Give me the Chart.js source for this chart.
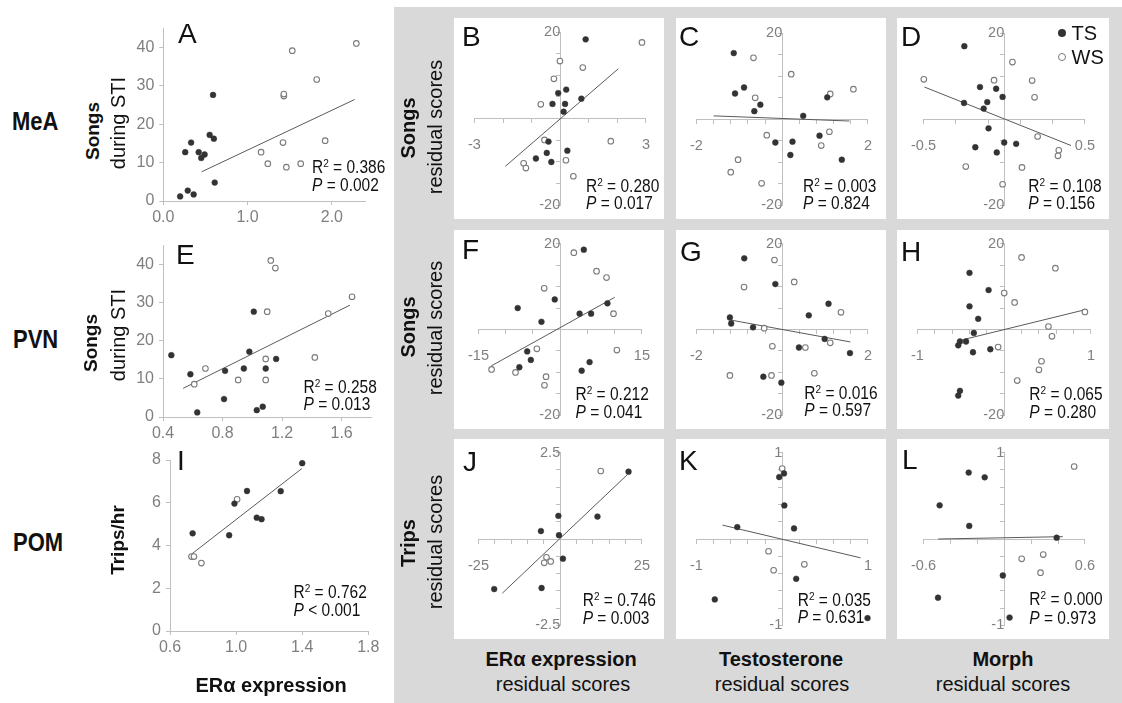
<!DOCTYPE html>
<html>
<head>
<meta charset="utf-8">
<script src="https://cdn.jsdelivr.net/npm/chart.js@4.4.1/dist/chart.umd.min.js"></script>
<style>
body { margin: 0; background: #fff; font-family: "Liberation Sans", Arial, Helvetica, sans-serif; }
#fig { position: relative; width: 1122px; height: 703px; overflow: hidden; }
.t { position: absolute; white-space: nowrap; line-height: 1; color: #111; }
.sup { font-size: 0.65em; position: relative; top: -0.45em; }
canvas { position: absolute; }
</style>
</head>
<body>
<div id="fig"></div>
<script>
// ---- data ----
// left column: raw values
const aTS = [[0.20,1.2],[0.26,12.7],[0.29,2.7],[0.33,15.2],[0.36,1.7],[0.42,12.7],[0.45,11.2],[0.49,12.1],[0.55,17.2],[0.59,27.6],[0.60,16.2],[0.61,4.8]];
const aWS = [[1.16,12.7],[1.24,9.7],[1.43,27.3],[1.43,27.8],[1.42,15.2],[1.46,8.8],[1.53,39.1],[1.63,9.7],[1.82,31.6],[1.92,15.7],[2.29,41.0]];
const aFit = [[0.455,7.6],[2.27,26.4]];
const aStats = ['0.386', '= 0.002'];
const aXTicks = [0, 1, 2];
const aYTicks = [0, 10, 20, 30, 40];

const eTS = [[0.456,16.2],[0.584,11.2],[0.63,1.2],[0.817,12.1],[0.81,4.7],[0.943,12.7],[0.98,17.1],[1.01,27.6],[1.03,1.8],[1.07,2.7],[1.09,12.7],[1.16,15.2]];
const eWS = [[0.61,8.6],[0.685,12.7],[0.905,9.7],[1.09,9.7],[1.09,15.2],[1.10,27.6],[1.124,41.0],[1.155,39.0],[1.42,15.6],[1.51,27.1],[1.67,31.5]];
const eFit = [[0.535,7.5],[1.656,29.3]];
const eStats = ['0.258', '= 0.013'];
const eXTicks = [0.4, 0.8, 1.2, 1.6];
const eYTicks = [0, 10, 20, 30, 40];

const iTS = [[0.737,4.57],[0.958,4.48],[0.99,5.96],[1.066,6.55],[1.125,5.30],[1.154,5.23],[1.27,6.54],[1.40,7.85]];
const iWS = [[0.73,3.48],[0.745,3.48],[0.79,3.18],[1.006,6.16]];
const iFit = [[0.731,3.6],[1.398,7.6]];
const iStats = ['0.762', '< 0.001'];
const iXTicks = [0.6, 1.0, 1.4, 1.8];
const iYTicks = [0, 2, 4, 6, 8];

// right block: residual scores
const bTS = [[0.89,18.3],[-0.07,5.9],[0.21,6.7],[-0.27,3.4],[0.17,3.4],[0.74,4.6],[0.12,1.6],[-0.41,-5.3],[-0.47,-7.9],[0.25,-7.4],[-0.85,-9.2],[-0.31,-10.0]];
const bWS = [[2.86,17.6],[-0.01,13.3],[0.79,11.8],[-0.22,9.2],[-0.68,3.3],[-0.55,-4.9],[1.77,-5.2],[0.20,-9.6],[-1.28,-10.3],[-1.20,-11.4],[0.46,-13.3]];
const bFit = [[-1.92,-11.0],[2.03,11.5]];
const bStats = ['0.280', '= 0.017'];

const cTS = [[-1.13,15.4],[-0.89,7.4],[-1.10,6.0],[-0.65,1.9],[-0.51,3.4],[0.49,0.8],[1.05,5.1],[-0.16,-5.4],[0.24,-5.2],[0.87,-3.8],[0.19,-8.3],[1.39,-9.4]];
const cWS = [[-0.67,14.3],[-0.63,5.0],[0.21,10.5],[1.12,5.9],[1.66,7.0],[-0.36,-3.7],[1.10,-2.9],[0.91,-6.1],[-0.48,-14.9],[-1.03,-9.4],[-1.20,-12.3]];
const cFit = [[-1.6,0.8],[1.57,-0.4]];
const cStats = ['0.003', '= 0.824'];

const dTS = [[-0.247,17.0],[-0.15,7.5],[-0.05,7.1],[-0.01,5.2],[-0.249,3.8],[-0.105,4.0],[-0.127,2.5],[-0.097,-2.1],[-0.179,-6.5],[0.0,-5.4],[0.074,-5.7],[-0.046,-7.7]];
const dWS = [[-0.498,9.3],[-0.063,9.1],[0.051,13.3],[0.173,9.0],[0.188,5.1],[0.207,-4.0],[0.338,-7.2],[0.333,-8.5],[0.11,-11.2],[-0.238,-11.0],[-0.01,-15.1]];
const dFit = [[-0.494,7.5],[0.414,-6.1]];
const dStats = ['0.108', '= 0.156'];

const fTS = [[4.33,18.6],[-1.0,7.0],[-7.8,5.0],[-3.44,1.8],[3.56,3.7],[5.67,3.7],[8.67,6.1],[-6.06,-5.1],[-5.39,-7.1],[-7.5,-8.8],[5.39,-7.6],[3.94,-9.6]];
const fWS = [[2.5,17.9],[6.67,13.6],[8.5,12.1],[-2.94,9.6],[9.78,3.7],[-4.28,-4.5],[10.4,-4.8],[-12.6,-9.3],[-8.2,-10.0],[-2.6,-11.0],[-2.89,-13.0]];
const fFit = [[-12.67,-8.5],[10.0,7.5]];
const fStats = ['0.212', '= 0.041'];

const gTS = [[-0.885,16.6],[-0.16,10.6],[-1.22,2.8],[-1.19,1.4],[-0.68,0.5],[0.62,3.3],[1.08,6.0],[0.99,-2.2],[0.39,-4.2],[1.58,-5.5],[-0.44,-11.0],[-0.02,-12.4]];
const gWS = [[-0.18,16.2],[-0.89,9.9],[0.28,11.1],[1.37,4.0],[-0.42,0.3],[-0.23,-3.9],[0.54,-4.2],[1.12,-3.1],[-1.22,-10.7],[-0.25,-10.7],[0.75,-10.2]];
const gFit = [[-1.2,2.2],[1.59,-2.9]];
const gStats = ['0.016', '= 0.597'];

const hTS = [[-0.40,13.2],[-0.18,9.2],[-0.40,5.4],[-0.30,2.5],[-0.35,-0.8],[-0.44,-2.8],[-0.51,-2.8],[-0.53,-3.7],[-0.36,-5.3],[-0.16,-4.6],[-0.51,-14.3],[-0.53,-15.4]];
const hWS = [[0.20,16.8],[0.59,14.3],[0.0,8.5],[0.12,6.3],[0.93,4.1],[0.51,0.7],[0.55,-1.6],[-0.07,-4.1],[0.43,-7.4],[0.40,-9.4],[0.15,-11.9]];
const hFit = [[-0.48,-2.4],[0.93,4.6]];
const hStats = ['0.065', '= 0.280'];

const jTS = [[20.9,1.95],[11.4,0.65],[-0.56,0.67],[-5.9,0.23],[-0.37,0.11],[0.83,-0.57],[-5.7,-1.42],[-20.2,-1.45]];
const jWS = [[12.4,1.97],[-4.2,-0.53],[-4.9,-0.69],[-2.9,-0.65]];
const jFit = [[-17.7,-1.57],[20.6,1.87]];
const jStats = ['0.746', '= 0.003'];

const kTS = [[-0.524,0.138],[-0.035,0.718],[0.021,0.76],[0.025,0.389],[0.138,0.123],[0.163,-0.461],[-0.786,-0.70],[0.995,-0.916]];
const kWS = [[0.0,0.817],[-0.159,-0.142],[-0.1,-0.362],[0.258,-0.294]];
const kFit = [[-0.697,0.161],[0.913,-0.218]];
const kStats = ['0.035', '= 0.631'];

const lTS = [[-0.264,0.77],[-0.145,0.715],[-0.48,0.39],[-0.26,0.152],[0.39,0.015],[-0.01,-0.423],[-0.492,-0.68],[0.04,-0.91]];
const lWS = [[0.52,0.84],[0.13,-0.23],[0.29,-0.18],[0.27,-0.39]];
const lFit = [[-0.49,0.0],[0.435,0.027]];
const lStats = ['0.000', '= 0.973'];

// axis ranges [min, max, step]
const xRangeB = [-3, 3, 1],        yRangeB = [-20, 20, 5];
const xRangeC = [-2, 2, 0.4],      yRangeC = [-20, 20, 5];
const xRangeD = [-0.5, 0.5, 0.2],  yRangeD = [-20, 20, 5];
const xRangeF = [-15, 15, 5],      yRangeF = [-20, 20, 5];
const xRangeG = [-2, 2, 0.4],      yRangeG = [-20, 20, 5];
const xRangeH = [-1, 1, 0.2],      yRangeH = [-20, 20, 5];
const xRangeJ = [-25, 25, 5],      yRangeJ = [-2.5, 2.5, 0.5];
const xRangeK = [-1, 1, 0.2],      yRangeK = [-1, 1, 0.2];
const xRangeL = [-0.6, 0.6, 0.2],  yRangeL = [-1, 1, 0.2];

// ---- drawing ----
const FONT = '"Liberation Sans", Arial, Helvetica, sans-serif';
const AXIS = '#bfbfbf';
const TICK = '#7f7f7f';
const fig = document.getElementById('fig');

function rect(x, y, w, h, color) {
    var d = document.createElement('div');
    d.style.cssText = `position:absolute;left:${x}px;top:${y}px;width:${w}px;height:${h}px;background:${color}`;
    fig.appendChild(d);
}

// text placed by left (or centre/right) x and vertical centre
function txt(html, x, cy, size, o) {
    o = o || {};
    var d = document.createElement('div');
    d.className = 't';
    d.innerHTML = html;
    d.style.fontSize = size + 'px';
    d.style.left = x + 'px';
    d.style.top = (cy - size * 0.5) + 'px';
    if (o.bold) d.style.fontWeight = 'bold';
    var tf = '';
    if (o.align === 'center') tf += 'translateX(-50%) ';
    if (o.align === 'right') tf += 'translateX(-100%) ';
    if (o.stretch) tf += `scaleY(${o.stretch})`;
    d.style.transform = tf;
    fig.appendChild(d);
}

function vtxt(html, cx, cy, size, bold) {
    var d = document.createElement('div');
    d.className = 't';
    d.innerHTML = html;
    d.style.fontSize = size + 'px';
    d.style.left = cx + 'px';
    d.style.top = cy + 'px';
    d.style.transform = 'translate(-50%,-50%) rotate(-90deg)';
    if (bold) d.style.fontWeight = 'bold';
    fig.appendChild(d);
}

function stats(s, x, cyR, cyP) {
    txt(`R<span class="sup">2</span> = ${s[0]}`, x, cyR, 15.5, {stretch: 1.15});
    txt(`<i>P</i> ${s[1]}`, x, cyP, 15.5, {stretch: 1.15});
}

function pts(arr) { return arr.map(p => ({x: p[0], y: p[1]})); }

function datasets(ts, ws, fit) {
    return [
        {label: 'TS', data: pts(ts), pointRadius: 2.9, pointBackgroundColor: '#333', pointBorderColor: '#333', pointBorderWidth: 0.5, clip: false},
        {label: 'WS', data: pts(ws), pointRadius: 2.8, pointBackgroundColor: '#fff', pointBorderColor: '#7a7a7a', pointBorderWidth: 1.1, clip: false},
        {label: 'fit', data: pts(fit), showLine: true, pointRadius: 0, borderColor: '#5a5a5a', borderWidth: 1, fill: false, clip: false}
    ];
}

function makeCanvas(x, y, w, h) {
    var c = document.createElement('canvas');
    c.width = w; c.height = h;
    c.style.left = x + 'px'; c.style.top = y + 'px';
    c.style.width = w + 'px'; c.style.height = h + 'px';
    fig.appendChild(c);
    return c;
}

const baseOpts = {
    responsive: false, animation: false, devicePixelRatio: 1,
    plugins: {legend: {display: false}, tooltip: {enabled: false}}
};

// left column panel: ordinary axes, fixed tick lists
function rawPanel(cv, area, xr, xt, yr, yt, ts, ws, fit) {
    var c = makeCanvas(cv[0], cv[1], cv[2], cv[3]);
    var yW = area[0] - cv[0], xH = cv[1] + cv[3] - area[3];
    var axis = (isX, r, t) => ({
        type: 'linear', min: r[0], max: r[1], bounds: 'data',
        position: isX ? 'bottom' : 'left',
        afterFit: s => { if (isX) s.height = xH; else s.width = yW; },
        afterBuildTicks: s => { s.ticks = t.map(v => ({value: v})); },
        grid: {drawOnChartArea: false, tickLength: 4, tickColor: AXIS},
        border: {color: AXIS, width: 1},
        ticks: {autoSkip: false, maxRotation: 0, color: TICK, font: {size: 16, family: FONT}, padding: isX ? 3 : 5,
                callback: v => isX ? v.toFixed(1) : String(v)}
    });
    new Chart(c, {
        type: 'scatter',
        data: {datasets: datasets(ts, ws, fit)},
        options: Object.assign({}, baseOpts, {
            layout: {padding: {left: 0, top: area[1] - cv[1], right: cv[0] + cv[2] - area[2], bottom: 0}},
            scales: {x: axis(true, xr, xt), y: axis(false, yr, yt)}
        })
    });
}

// residual panel: axes crossing at zero, end labels only
function residPanel(panel, area, xr, yr, ts, ws, fit) {
    var px = panel[0], py = panel[1], pw = panel[2] - panel[0], ph = panel[3] - panel[1];
    rect(px, py, pw, ph, '#fff');
    var c = makeCanvas(px, py, pw, ph);
    var axis = (isX, r) => ({
        type: 'linear', min: r[0], max: r[1], bounds: 'data',
        position: isX ? {y: 0} : {x: 0},
        grid: {drawOnChartArea: false, drawTicks: true, tickLength: 4, tickColor: AXIS},
        border: {display: true, color: AXIS, width: 1},
        ticks: {stepSize: r[2], autoSkip: false, maxRotation: 0, color: TICK, font: {size: 14.5, family: FONT},
                padding: isX ? 14 : 5,
                callback: (v, i, arr) => (i === 0 || i === arr.length - 1) ? String(v) : ''}
    });
    new Chart(c, {
        type: 'scatter',
        data: {datasets: datasets(ts, ws, fit)},
        options: Object.assign({}, baseOpts, {
            layout: {padding: {left: area[0] - px, top: area[1] - py, right: panel[2] - area[2], bottom: panel[3] - area[3]}},
            scales: {x: axis(true, xr), y: axis(false, yr)}
        })
    });
}

// grey block behind residual panels
rect(394, 7, 728, 696, '#d9d9d9');

rawPanel([120, 10, 275, 225], [163.3, 28, 365.6, 201], [0, 2.4], aXTicks, [0, 45], aYTicks, aTS, aWS, aFit);
rawPanel([120, 230, 275, 225], [163, 245.2, 371.4, 417], [0.4, 1.8], eXTicks, [0, 45], eYTicks, eTS, eWS, eFit);
rawPanel([120, 445, 275, 220], [170, 460, 368.3, 631], [0.6, 1.8], iXTicks, [0, 8], iYTicks, iTS, iWS, iFit);

const colX = [[454, 664], [676, 886], [897, 1109]];
const rowY = [[18, 219], [230, 429], [439, 639]];
function P(c, r) { return [colX[c][0], rowY[r][0], colX[c][1], rowY[r][1]]; }

residPanel(P(0, 0), [467.7, 32, 655, 207], xRangeB, yRangeB, bTS, bWS, bFit);
residPanel(P(1, 0), [688.6, 33.3, 876, 207], xRangeC, yRangeC, cTS, cWS, cFit);
residPanel(P(2, 0), [915.7, 33.3, 1091, 207], xRangeD, yRangeD, dTS, dWS, dFit);
residPanel(P(0, 1), [471, 243.3, 651, 420], xRangeF, yRangeF, fTS, fWS, fFit);
residPanel(P(1, 1), [688.3, 243, 876.7, 417.3], xRangeG, yRangeG, gTS, gWS, gFit);
residPanel(P(2, 1), [910, 242.7, 1098.3, 418.7], xRangeH, yRangeH, hTS, hWS, hFit);
residPanel(P(0, 2), [470.7, 452, 650.7, 626.7], xRangeJ, yRangeJ, jTS, jWS, jFit);
residPanel(P(1, 2), [688.3, 451, 876.7, 626.7], xRangeK, yRangeK, kTS, kWS, kFit);
residPanel(P(2, 2), [915, 451.7, 1094, 626.7], xRangeL, yRangeL, lTS, lWS, lFit);

// panel letters
[['A', 178, 34], ['E', 176, 255], ['I', 177, 461],
 ['B', 462, 37], ['C', 679, 37], ['D', 901, 37],
 ['F', 462, 250], ['G', 680, 252], ['H', 901, 252],
 ['J', 463, 462], ['K', 679, 461], ['L', 902, 460]].forEach(l => txt(l[0], l[1], l[2], 28));

// stats
stats(aStats, 312, 167, 185);
stats(eStats, 303.5, 386.7, 403.3);
stats(iStats, 293.5, 591.7, 610);
stats(bStats, 586, 185.7, 202.3);
stats(cStats, 803, 185.7, 202.3);
stats(dStats, 1028.3, 185.7, 202.3);
stats(fStats, 575.5, 393.3, 411.7);
stats(gStats, 804.3, 393, 409.5);
stats(hStats, 1029.3, 393.3, 411.7);
stats(jStats, 582.7, 600, 617.7);
stats(kStats, 797.7, 599.3, 616.5);
stats(lStats, 1029.3, 598.3, 617.7);

// row labels
txt('MeA', 12, 122, 22, {bold: true, stretch: 1.15});
txt('PVN', 13, 340, 22, {bold: true, stretch: 1.15});
txt('POM', 13, 543, 22, {bold: true, stretch: 1.15});

// left y titles
vtxt('Songs', 91.5, 131, 19, true);
vtxt('during STI', 118.3, 122.5, 20);
vtxt('Songs', 90, 342.5, 19, true);
vtxt('during STI', 118.3, 335, 20);
vtxt('Trips/hr', 116.7, 540, 19, true);

// right row titles
vtxt('Songs', 408, 127.5, 20, true);
vtxt('residual scores', 435, 126.7, 20);
vtxt('Songs', 408.3, 326.7, 20, true);
vtxt('residual scores', 435, 327.5, 20);
vtxt('Trips', 408.3, 543.3, 20, true);
vtxt('residual scores', 435, 541.7, 20);

// x titles
txt('ERα expression', 271, 685, 20, {bold: true, align: 'center'});
txt('ERα expression', 561, 659.3, 20, {bold: true, align: 'center'});
txt('residual scores', 563, 684, 20, {align: 'center'});
txt('Testosterone', 781, 659.3, 20, {bold: true, align: 'center'});
txt('residual scores', 782, 684, 20, {align: 'center'});
txt('Morph', 1003, 659.3, 20, {bold: true, align: 'center'});
txt('residual scores', 1003, 684, 20, {align: 'center'});

// legend in panel D
(function () {
    var dot = (cx, cy, filled) => {
        var d = document.createElement('div');
        d.style.cssText = `position:absolute;left:${cx - 4}px;top:${cy - 4}px;width:8px;height:8px;border-radius:50%;box-sizing:border-box;` +
            (filled ? 'background:#333;' : 'background:#fff;border:1.2px solid #7a7a7a;');
        fig.appendChild(d);
    };
    dot(1061.7, 33.3, true);
    dot(1061.7, 57.3, false);
    txt('TS', 1071.5, 33.3, 20, {stretch: 1.05});
    txt('WS', 1071.5, 57.3, 20, {stretch: 1.05});
})();
</script>
</body>
</html>
